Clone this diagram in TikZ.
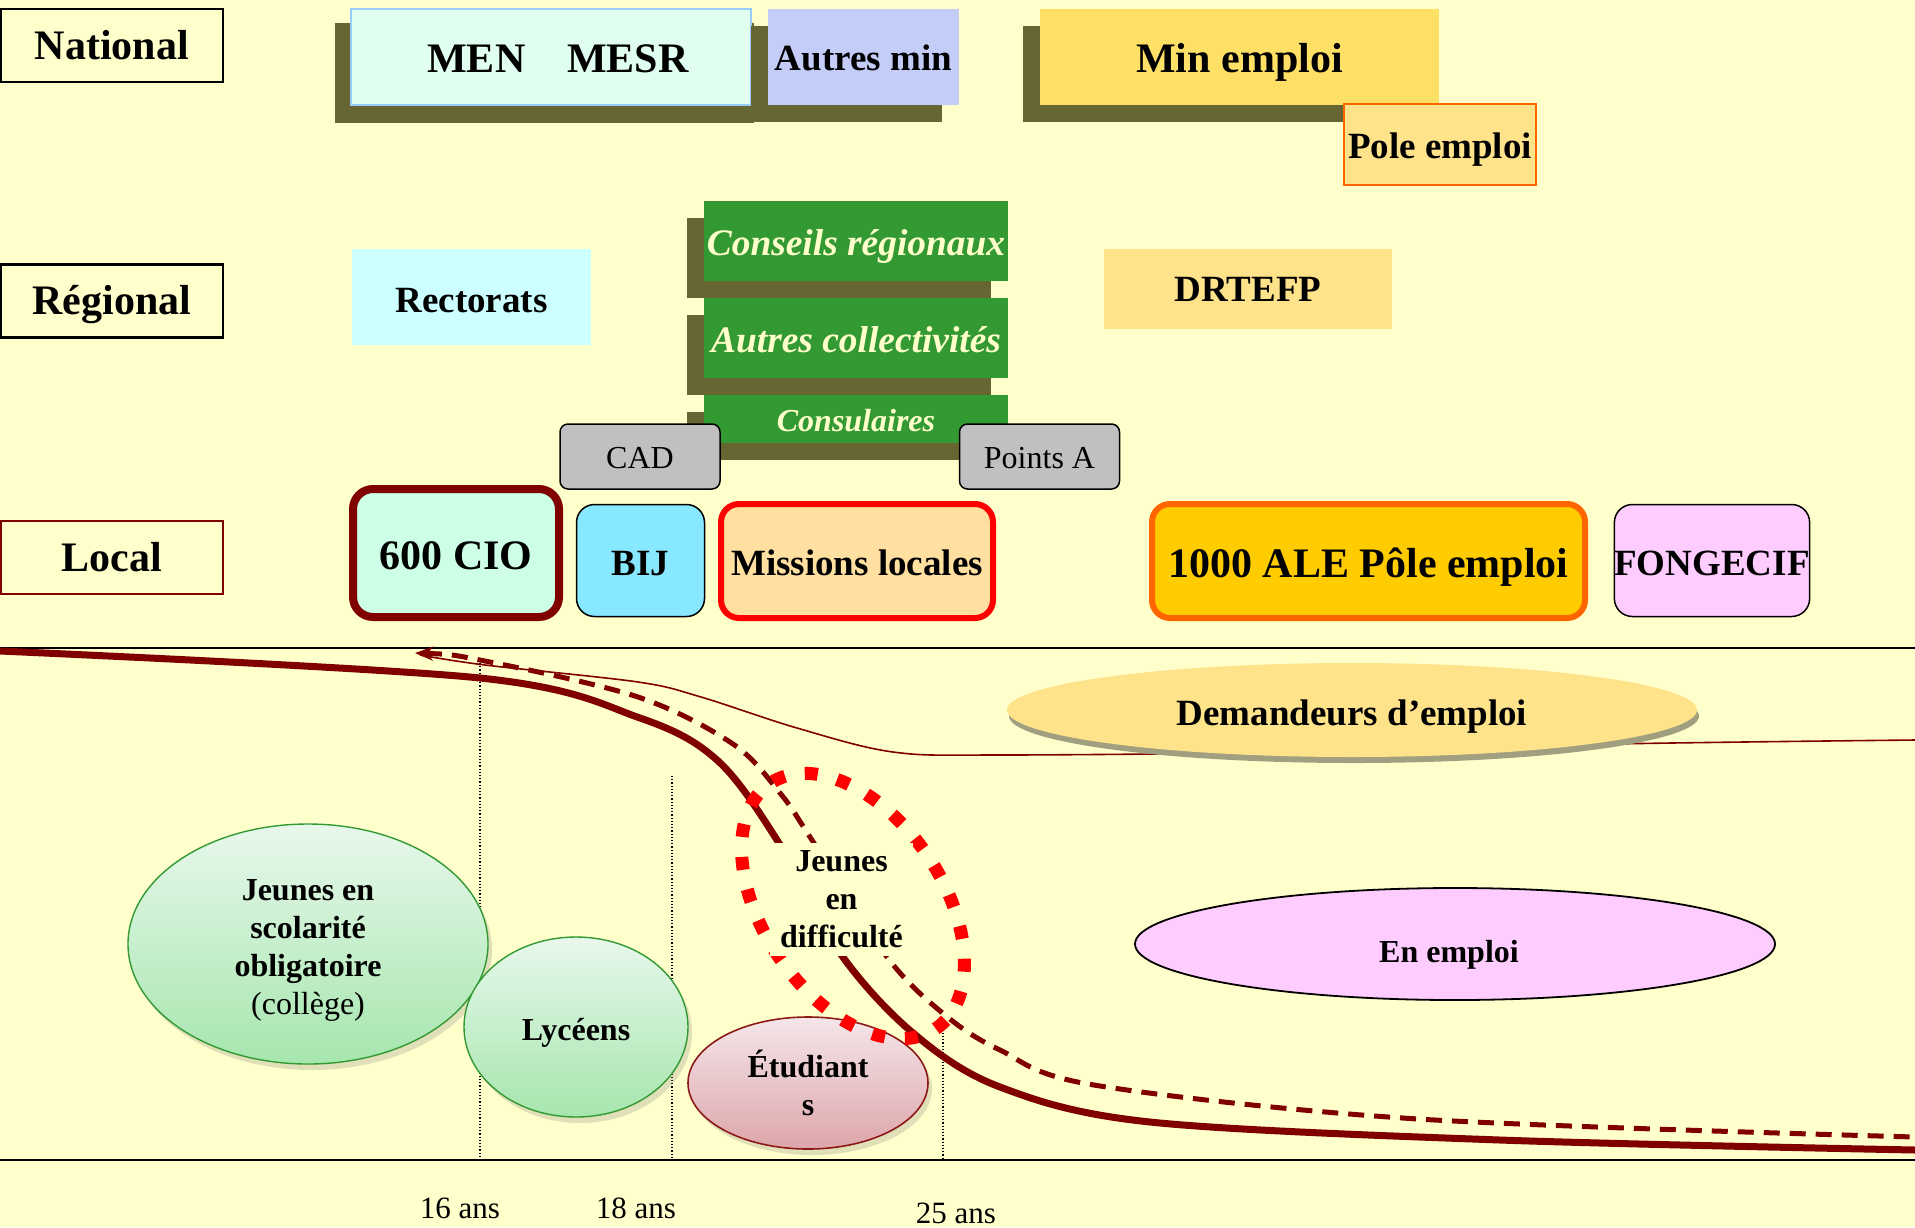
\documentclass[tikz,border=0pt]{standalone}
\usepackage{fontspec}
\setmainfont{Liberation Serif}
\usetikzlibrary{positioning,shapes.geometric,shadows,arrows.meta}

\definecolor{cfond}{HTML}{FFFFCC}
\definecolor{combre}{HTML}{666633}
\definecolor{cvert}{HTML}{339933}
\definecolor{cmarron}{HTML}{800000}
\definecolor{cmen}{HTML}{E0FFF0}
\definecolor{cmenbord}{HTML}{99CCFF}
\definecolor{cautmin}{HTML}{C3CDF7}
\definecolor{cminemp}{HTML}{FFE066}
\definecolor{cpole}{HTML}{FFE38A}
\definecolor{corange}{HTML}{FF6600}
\definecolor{crect}{HTML}{CCFFFF}
\definecolor{cgris}{HTML}{C0C0C0}
\definecolor{ccio}{HTML}{CCFFE6}
\definecolor{cbij}{HTML}{88E8FF}
\definecolor{cmiss}{HTML}{FFE0A0}
\definecolor{cale}{HTML}{FFCC00}
\definecolor{cfong}{HTML}{FFCCFF}
\definecolor{cbulhaut}{HTML}{E8F8EC}
\definecolor{cbulbas}{HTML}{A6E6AE}
\definecolor{cetudhaut}{HTML}{F4E6EA}
\definecolor{cetudbas}{HTML}{DDA6AA}
\definecolor{cdemombre}{HTML}{A0A080}

\begin{document}
\begin{tikzpicture}[x=0.5pt,y=-0.5pt]
    \tikzset{bas/.style={text depth=0pt,text height=#1}}
    \tikzstyle{every node}=[inner sep=0pt,align=center]
    \tikzstyle{niveau}=[draw,line width=1.25pt,minimum width=111pt,minimum height=36.5pt,bas=13.9pt,
        font=\bfseries\fontsize{21}{24}\selectfont]
    \tikzstyle{ombre}=[drop shadow={fill=combre,opacity=1,shadow xshift=-8.5pt,shadow yshift=-8.5pt}]
    \tikzstyle{national}=[minimum height=48pt,bas=15.1pt,font=\bfseries\fontsize{21}{24}\selectfont]
    \tikzstyle{texte}=[font=\bfseries\fontsize{18.5}{22}\selectfont]
    \tikzstyle{collect}=[ombre,fill=cvert,minimum width=152pt,text=cfond,bas=14.7pt,
        font=\bfseries\itshape\fontsize{18.7}{22}\selectfont]
    \tikzstyle{guichet}=[draw,fill=cgris,rounded corners=4pt,line width=0.75pt,minimum width=80pt,
        minimum height=32.5pt,bas=11.8pt,font=\fontsize{16}{19}\selectfont]
    \tikzstyle{local}=[draw,rounded corners=9pt,minimum height=57pt,bas=14.6pt,texte]
    \tikzstyle{bulle}=[ellipse,draw,font=\bfseries\fontsize{16}{19}\selectfont]
    \tikzstyle{eleve}=[bulle,draw=cvert,line width=0.7pt,top color=cbulhaut,bottom color=cbulbas,
        drop shadow={opacity=0.25,shadow xshift=2pt,shadow yshift=-3pt}]
    \tikzstyle{age}=[font=\fontsize{15.5}{18}\selectfont]
    \tikzstyle{repere}=[densely dotted,line width=0.6pt]
    \tikzstyle{parcours}=[cmarron,line width=3.5pt]

    \useasboundingbox (0,0) rectangle (1915,1227);
    \fill[cfond] (0,0) rectangle (1915,1227);

    \node[niveau] (nat) at (112,45.5) {National};
    \node[niveau] (reg) at (112,301) {Régional};
    \node[niveau,draw=cmarron] (loc) at (112,557.5) {Local};

    \fill[combre] (335,23) rectangle (754,123);
    \node[national,fill=cmen,draw=cmenbord,line width=1pt,minimum width=200pt] (men) at (551,57) {\hspace*{7pt}MEN\hspace{1em}MESR};
    \node[national,ombre,fill=cautmin,minimum width=95.5pt,texte,bas=13.4pt] (autmin) at (863.5,57) {Autres min};
    \node[national,ombre,fill=cminemp,minimum width=199.5pt] (minemp) at (1239.5,57) {Min emploi};
    \node[texte,draw=corange,line width=1pt,fill=cpole,minimum width=96pt,minimum height=40.5pt,bas=14pt] (pole) at (1440,144.5) {Pole emploi};

    \node[texte,fill=crect,minimum width=119.5pt,minimum height=48pt,bas=15.2pt] (rect) at (471.5,297) {Rectorats};
    \node[collect,minimum height=40pt] (conseil) at (856,241) {Conseils régionaux};
    \node[collect,minimum height=40pt,below=8pt of conseil] (collec) {Autres collectivités};
    \node[collect,minimum height=24pt,below=8pt of collec,bas=12.4pt,font=\bfseries\itshape\fontsize{16}{19}\selectfont] (consul) {Consulaires};
    \node[guichet] (cad) at (640,456.5) {CAD};
    \node[guichet] (pta) at (1039.5,456.5) {Points A};
    \node[texte,fill=cpole,minimum width=144pt,minimum height=40pt,bas=12.8pt] (drtefp) at (1248,289) {DRTEFP};

    \node[local,draw=cmarron,line width=4pt,fill=ccio,minimum width=103pt,minimum height=64pt,bas=16.9pt,
        rounded corners=10pt,font=\bfseries\fontsize{21}{24}\selectfont] (cio) at (456,553) {600 CIO};
    \node[local,fill=cbij,line width=0.75pt,minimum width=64pt,minimum height=56pt] (bij) at (640.5,560.5) {BIJ};
    \node[local,draw=red,line width=3pt,fill=cmiss,minimum width=136pt] (miss) at (857,561) {Missions locales};
    \node[local,draw=corange,line width=3pt,fill=cale,minimum width=216.5pt,bas=16.3pt,
        font=\bfseries\fontsize{21}{24}\selectfont] (ale) at (1368.5,561) {1000 ALE Pôle emploi};
    \node[local,fill=cfong,line width=0.75pt,minimum width=95.5pt,minimum height=56pt] (fong) at (1712,560.5) {FONGECIF};

    \draw[line width=1pt] (0,648) -- (1915,648);
    \draw[line width=1pt] (0,1160) -- (1915,1160);

    \node[age] (a16) at (460,1208) {16 ans};
    \node[age] (a18) at (636,1208) {18 ans};
    \node[age] (a25) at (956,1213) {25 ans};
    \draw[repere] (480,663) -- (480,1160);
    \draw[repere] (672,776) -- (672,1160);
    \draw[repere] (943,1020) -- (943,1160);

    \node[eleve,minimum width=180pt,minimum height=120pt] (scol) at (308,944) {};
    \node[font=\bfseries\fontsize{16}{19}\selectfont] (scoltxt) at ([yshift=-3pt]scol.center)
        {Jeunes en\\scolarité\\obligatoire\\{\mdseries(collège)}};
    \node[eleve,minimum width=112pt,minimum height=90pt,bas=13pt] (lyc) at (576,1027) {Lycéens};
    \node[bulle,draw=cmarron!90,line width=0.8pt,top color=cetudhaut,bottom color=cetudbas,
        minimum width=120pt,minimum height=66pt,
        drop shadow={opacity=0.25,shadow xshift=2pt,shadow yshift=-3pt}] (etud) at (808,1083) {Étudiant\\s};

    \draw[cmarron,line width=0.8pt] plot[smooth,tension=0.55] coordinates
        {(420,655) (485,665) (638,682) (701,697) (797,728) (893,752) (1000,755) (1300,752) (1612,744) (1915,740)};
    \draw[parcours] plot[smooth,tension=0.55] coordinates
        {(0,651) (480,678) (640,718) (717,760) (777,840) (840,953) (913,1033) (1000,1087) (1150,1122) (1500,1140) (1915,1150)};
    \draw[cmarron,line width=2.5pt,dash pattern=on 8pt off 5pt,{Stealth[length=9pt,width=7pt]}-] plot[smooth,tension=0.55] coordinates
        {(415,653) (485,661) (638,697) (733,744) (780,793) (810,837) (887,957) (945,1015) (1000,1050) (1094,1085) (1418,1119) (1915,1137)};

    \node[bulle,draw=none,fill=cpole,minimum width=345pt,minimum height=47pt,bas=15.8pt,
        font=\bfseries\fontsize{18.5}{22}\selectfont,
        drop shadow={fill=cdemombre,opacity=1,shadow xshift=1pt,shadow yshift=-3pt}] (demand) at (1352,710) {Demandeurs d’emploi};
    \node[bulle,fill=cfong,line width=0.9pt,minimum width=320pt,minimum height=56pt,bas=18pt] (enemp) at (1455,944) {En emploi\hspace*{6pt}};

    \node[ellipse,draw=red,line width=6.5pt,dash pattern=on 6.5pt off 10pt,rotate=-56,
        minimum width=148pt,minimum height=90pt] (diffring) at (853,906) {};
    \node[fill=cfond,minimum width=71.5pt,minimum height=56.5pt,
        font=\bfseries\fontsize{16}{19}\selectfont] (diff) at (841.5,899) {Jeunes\\en\\difficulté};
\end{tikzpicture}
\end{document}
